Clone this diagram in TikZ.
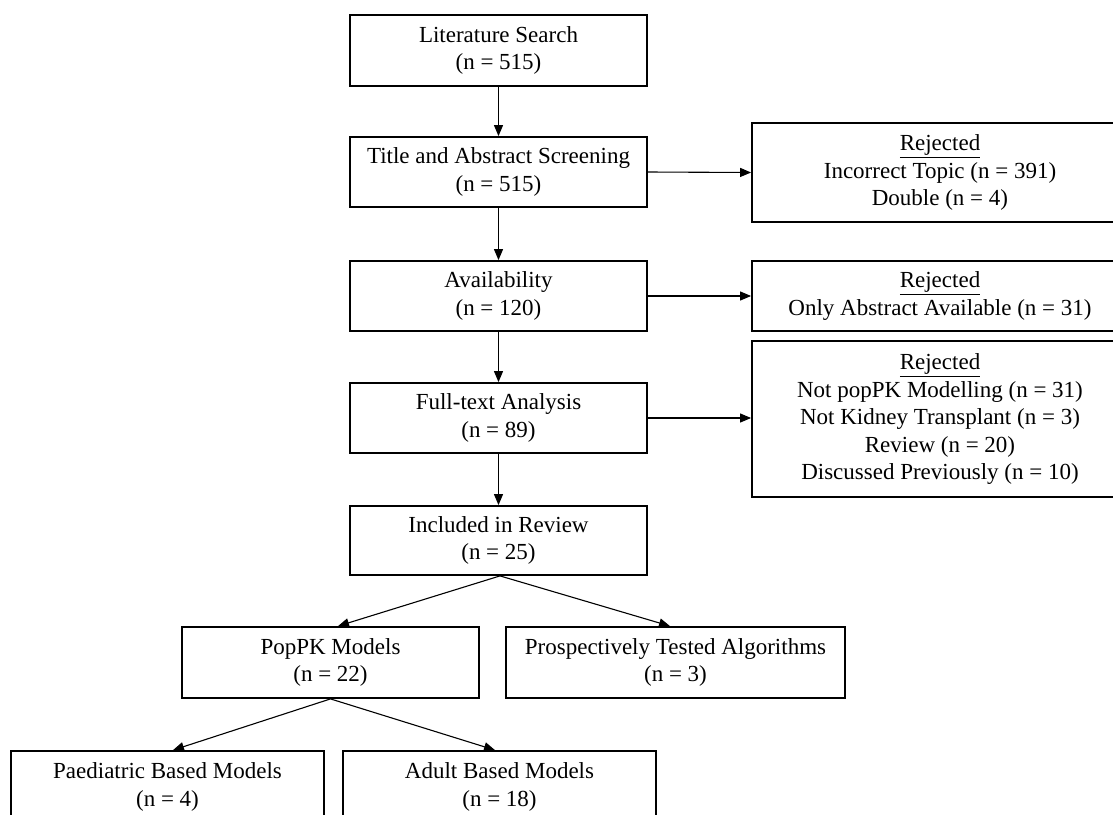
\documentclass[tikz,border=0pt]{standalone}
\usepackage{fontspec}
\setmainfont{Liberation Serif}
\usetikzlibrary{arrows.meta}
\begin{document}
\begin{tikzpicture}[x=1pt,y=1pt,
  box/.style={draw=black, line width=1.8pt, fill=white, align=center, inner sep=0pt,
    font=\fontsize{23}{27.5}\selectfont, minimum width=297pt, minimum height=70pt},
  arr/.style={draw=black, line width=1.1pt, -{Triangle[length=11pt,width=9pt]}}]
\useasboundingbox (0,0) rectangle (1113,-814);
\fill[white] (0,0) rectangle (1113,-814);
\node[box, minimum height=71pt] (ls) at (498.5,-50.5) {Literature Search\\(n = 515)};
\node[box] (ta) at (498.5,-172) {Title and Abstract Screening\\(n = 515)};
\node[box] (av) at (498.5,-296) {Availability\\(n = 120)};
\node[box] (ft) at (498.5,-418) {Full-text Analysis\\(n = 89)};
\node[box, minimum height=69pt] (ir) at (498.5,-540.5) {Included in Review\\(n = 25)};
\node[box, minimum height=71pt] (pp) at (330.5,-662.5) {PopPK Models\\(n = 22)};
\node[box, minimum width=339pt, minimum height=71pt] (pt) at (675.5,-662.5) {Prospectively Tested Algorithms\\(n = 3)};
\node[box, minimum width=313pt, minimum height=72pt] (pa) at (167.5,-787) {Paediatric Based Models\\(n = 4)};
\node[box, minimum width=313pt, minimum height=72pt] (ad) at (499.5,-787) {Adult Based Models\\(n = 18)};
\node[box, minimum width=376pt, minimum height=99pt] (r1) at (940,-172.5) {\underline{Rejected}\\Incorrect Topic (n = 391)\\Double (n = 4)};
\node[box, minimum width=376pt, minimum height=70pt] (r2) at (940,-296) {\underline{Rejected}\\Only Abstract Available (n = 31)};
\node[box, minimum width=376pt, minimum height=156pt] (r3) at (940,-419) {\underline{Rejected}\\Not popPK Modelling (n = 31)\\Not Kidney Transplant (n = 3)\\Review (n = 20)\\Discussed Previously (n = 10)};
\draw[arr] (ls.south) -- (ta.north);
\draw[arr] (ta.south) -- (av.north);
\draw[arr] (av.south) -- (ft.north);
\draw[arr] (ft.south) -- (ir.north);
\draw[arr] (ta.east) -- (r1.west);
\draw[arr] (av.east) -- (r2.west);
\draw[arr] (ft.east) -- (ft.east -| r3.west);
\draw[arr] ([xshift=1.5pt]ir.south) -- ([xshift=7.5pt]pp.north);
\draw[arr] ([xshift=1.5pt]ir.south) -- ([xshift=-5.5pt]pt.north);
\draw[arr] (pp.south) -- ([xshift=5.5pt]pa.north);
\draw[arr] (pp.south) -- ([xshift=-4.5pt]ad.north);
\end{tikzpicture}
\end{document}
